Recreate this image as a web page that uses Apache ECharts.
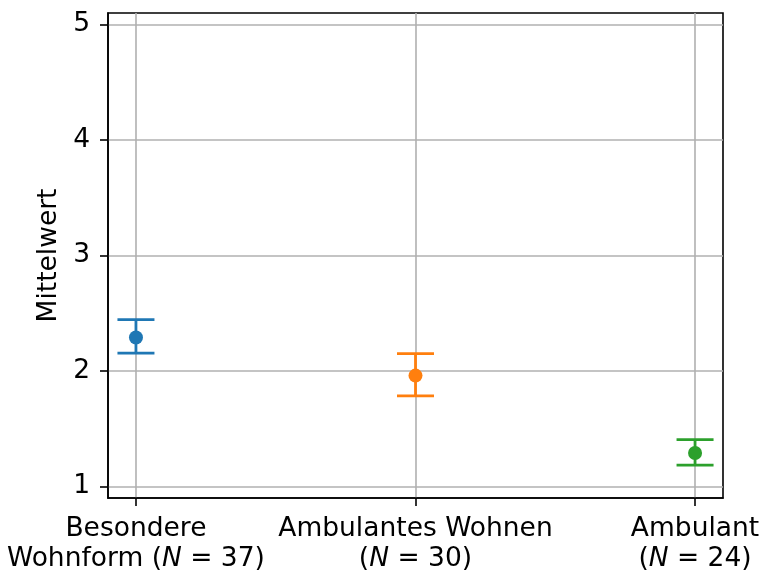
<!DOCTYPE html>
<html>
<head>
<meta charset="utf-8">
<script src="https://cdn.jsdelivr.net/npm/echarts@6/dist/echarts.min.js"></script>
<style>html,body{margin:0;padding:0;background:#fff}#c{width:763px;height:574px}</style>
</head>
<body>
<div id="c"></div>
<script>
const categoryLine1 = ['Besondere', 'Ambulantes Wohnen', 'Ambulant'];
const categoryLine2Prefix = ['Wohnform ', '', ''];
const groupN = [37, 30, 24];
const meanValues = [2.29, 1.96, 1.29];
const lowerValues = [2.155, 1.785, 1.185];
const upperValues = [2.445, 2.15, 1.405];
const colors = ['#1f77b4', '#ff7f0e', '#2ca02c'];
const xPositions = [0, 1, 2];
const yTicks = [1, 2, 3, 4, 5];

const FONT = 'DejaVu Sans';
const FS = 26.5;
const chart = echarts.init(document.getElementById('c'), null, {renderer: 'canvas'});

const errData = xPositions.map((x, i) => [x, lowerValues[i], upperValues[i], i]);
const meanData = xPositions.map((x, i) => ({value: [x, meanValues[i]], itemStyle: {color: colors[i], opacity: 1}}));

chart.setOption({
  animation: false,
  grid: {left: 108, top: 13, right: 40, bottom: 74, show: true, borderColor: '#000', borderWidth: 1.6, backgroundColor: 'transparent'},
  xAxis: {
    type: 'value', min: -0.1, max: 2.1, z: 0,
    axisLine: {show: true, onZero: false, lineStyle: {color: '#000', width: 1.6}},
    axisTick: {show: true, length: 8, customValues: xPositions, lineStyle: {color: '#000', width: 1.6}},
    splitLine: {show: true, customValues: xPositions, lineStyle: {color: '#b0b0b0', width: 1.6}},
    axisLabel: {
      customValues: xPositions, margin: 16, color: '#000', fontFamily: FONT, fontSize: FS, lineHeight: 30,
      formatter: function (v) {
        const i = Math.round(v);
        return categoryLine1[i] + '\n' + categoryLine2Prefix[i] + '({i|N} = ' + groupN[i] + ')';
      },
      rich: {i: {fontStyle: 'italic', fontFamily: FONT, fontSize: FS, lineHeight: 30, color: '#000'}}
    }
  },
  yAxis: {
    type: 'value', min: 0.9, max: 5.1, z: 0,
    name: 'Mittelwert', nameLocation: 'middle', nameGap: 44,
    nameTextStyle: {fontFamily: FONT, fontSize: FS, color: '#000'},
    axisLine: {show: true, onZero: false, lineStyle: {color: '#000', width: 1.6}},
    axisTick: {show: true, length: 8, customValues: yTicks, lineStyle: {color: '#000', width: 1.6}},
    splitLine: {show: true, customValues: yTicks, lineStyle: {color: '#b0b0b0', width: 1.6}},
    axisLabel: {customValues: yTicks, margin: 18, color: '#000', fontFamily: FONT, fontSize: FS}
  },
  series: [
    {
      type: 'custom',
      data: errData,
      zlevel: 1,
      z: 3,
      clip: false,
      renderItem: function (params, api) {
        const x = api.value(0), lo = api.value(1), hi = api.value(2), idx = api.value(3);
        const pLo = api.coord([x, lo]);
        const pHi = api.coord([x, hi]);
        const hw = 18.5, lw = 2.8;
        const c = colors[idx];
        return {
          type: 'group',
          children: [
            {type: 'polygon', shape: {points: [
              [pHi[0] - lw / 2, pHi[1]], [pHi[0] + lw / 2, pHi[1]],
              [pLo[0] + lw / 2, pLo[1]], [pLo[0] - lw / 2, pLo[1]]
            ]}, style: {fill: c, stroke: null}},
            {type: 'polyline', shape: {points: [[pHi[0] - hw, pHi[1]], [pHi[0] + hw, pHi[1]]]}, style: {stroke: c, lineWidth: lw, fill: null}},
            {type: 'polyline', shape: {points: [[pLo[0] - hw, pLo[1]], [pLo[0] + hw, pLo[1]]]}, style: {stroke: c, lineWidth: lw, fill: null}}
          ]
        };
      }
    },
    {
      type: 'scatter',
      data: meanData,
      symbol: 'circle',
      symbolSize: 14,
      zlevel: 1,
      z: 4
    }
  ]
});
</script>
</body>
</html>
